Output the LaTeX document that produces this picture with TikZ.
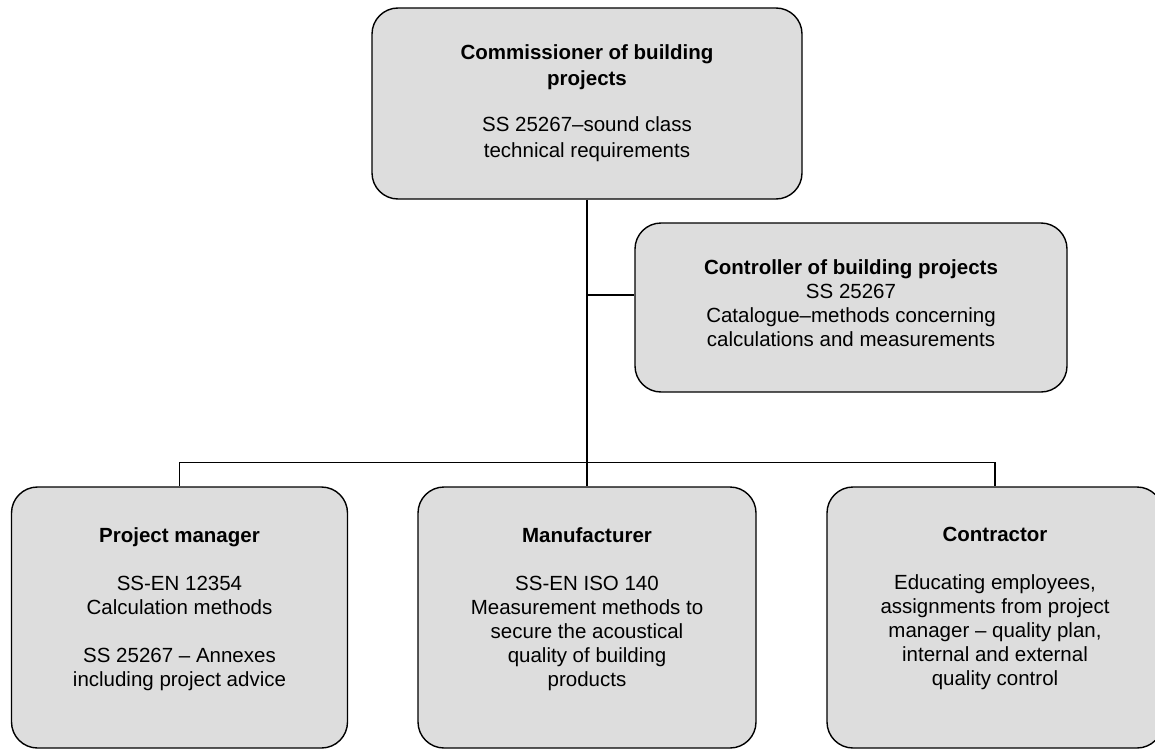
\documentclass[tikz,border=0pt]{standalone}
\usepackage{fontspec}
\setmainfont{Liberation Sans}
\definecolor{boxfill}{RGB}{221,221,221}
\begin{document}
\begin{tikzpicture}[x=1pt,y=-1pt,
  box/.style={draw=black, line width=1.4pt, fill=boxfill, rounded corners=26pt, inner sep=0pt},
  txt/.style={align=center, inner sep=0pt, font=\fontsize{20.5}{24}\selectfont},
  conn/.style={line width=1.4pt}]
\useasboundingbox (0,0) rectangle (1155,749);
\clip (0,0) rectangle (1155,749);
% boxes
\node[box, minimum width=430pt, minimum height=191pt] (comm) at (587,103.5) {};
\node[box, minimum width=432pt, minimum height=169pt] (ctrl) at (851,307.5) {};
\node[box, minimum width=336pt, minimum height=261pt] (pm)   at (179.5,617.5) {};
\node[box, minimum width=338pt, minimum height=261pt] (mfr)  at (587,617.5) {};
\node[box, minimum width=336pt, minimum height=261pt] (con)  at (995,617.5) {};
% connectors
\coordinate (j1) at (587,295);
\draw[conn] (comm.south) -- (mfr.north);
\draw[conn] (j1) -- (j1 -| ctrl.west);
\draw[conn] (pm.north) -- ++(0,-24) -| (con.north);
% texts
\node[txt, anchor=north, font=\fontsize{20.5}{26.5}\selectfont] (commt) at (587,44)
  {\textbf{Commissioner of building}\\\textbf{projects}\\[19pt]
   SS 25267–sound class\\technical requirements};
\node[txt, anchor=north] (ctrlt) at (851,259)
  {\textbf{Controller of building projects}\\SS 25267\\
   Catalogue–methods concerning\\calculations and measurements};
\node[txt, anchor=north] (pmt) at (179.5,527)
  {\textbf{Project manager}\\[24pt]SS-EN 12354\\Calculation methods\\[24pt]
   SS 25267 – Annexes\\including project advice};
\node[txt, anchor=north] (mfrt) at (587,527)
  {\textbf{Manufacturer}\\[24pt]SS-EN ISO 140\\Measurement methods to\\
   secure the acoustical\\quality of building\\products};
\node[txt, anchor=north] (cont) at (995,527)
  {\textbf{Contractor}\\[24pt]Educating employees,\\assignments from project\\
   manager – quality plan,\\internal and external\\quality control};
\end{tikzpicture}
\end{document}
